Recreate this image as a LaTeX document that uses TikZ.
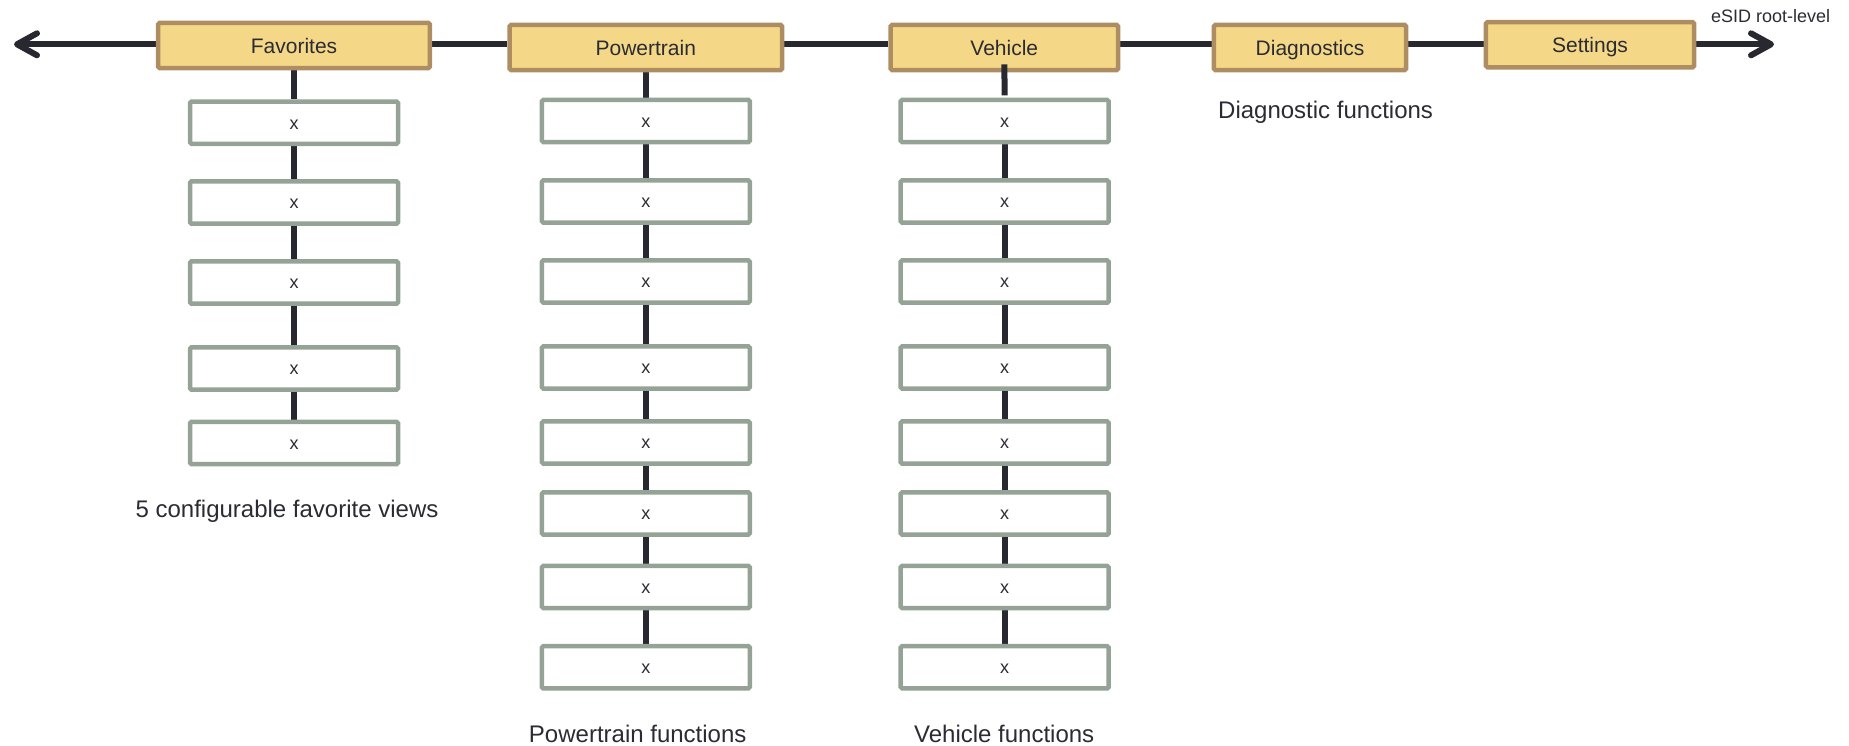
\documentclass[tikz,border=0pt]{standalone}
\usepackage{fontspec}
\setmainfont{Liberation Sans}
\usetikzlibrary{arrows.meta,backgrounds}
\definecolor{hdrfill}{RGB}{244,216,135}
\definecolor{hdrdraw}{RGB}{175,141,99}
\definecolor{itemdraw}{RGB}{148,163,150}
\definecolor{linec}{RGB}{40,40,48}
\definecolor{txt}{RGB}{43,43,51}
\begin{document}
\begin{tikzpicture}[x=1pt,y=-1pt,
  >={Straight Barb[length=20pt,width=22pt,round]},
  hdr/.style={draw=hdrdraw, fill=hdrfill, line width=4.5pt, rounded corners=1.5pt,
    minimum height=45.1pt, inner sep=0pt, text=txt, font=\fontsize{21}{25}\selectfont,
    text height=18.9pt, text depth=3.86pt},
  item/.style={draw=itemdraw, fill=white, line width=4.5pt, rounded corners=1.5pt,
    minimum width=208pt, minimum height=42.2pt, inner sep=0pt, text=txt,
    font=\fontsize{18}{22}\selectfont, text height=16.2pt, text depth=3.31pt},
  conn/.style={draw=linec, line width=6pt},
  lbl/.style={text=txt, font=\fontsize{24}{28}\selectfont, inner sep=0pt},
]
\useasboundingbox (0,0) rectangle (1849,745);

% header nodes
\node[hdr, minimum width=271.8pt] (fav) at (294,45.5) {Favorites};
\node[hdr, minimum width=272.5pt] (pow) at (645.8,47.5) {Powertrain};
\node[hdr, minimum width=227.5pt] (veh) at (1004.3,47.5) {Vehicle};
\node[hdr, minimum width=192.1pt] (dia) at (1310,47.5) {Diagnostics};
\node[hdr, minimum width=208.1pt] (set) at (1590,44.7) {Settings};

\coordinate (L) at (14,44.3);
\coordinate (R) at (1774,44.3);

% favorites column
\foreach \i/\y in {1/122.7,2/202.5,3/282.5,4/368.5,5/443}
  \node[item] (f\i) at (294,\y) {x};
% powertrain column
\foreach \i/\y in {1/121,2/201.5,3/281.5,4/367.5,5/442.5,6/513.5,7/587,8/667.3}
  \node[item] (p\i) at (645.8,\y) {x};
% vehicle column
\foreach \i/\y in {1/121,2/201.5,3/281.5,4/367.5,5/442.5,6/513.5,7/587,8/667.3}
  \node[item] (v\i) at (1004.7,\y) {x};

% labels
\node[lbl, anchor=base] (lf) at (287,517) {5 configurable favorite views};
\node[lbl, anchor=base] (lp) at (637.7,742.5) {Powertrain functions};
\node[lbl, anchor=base] (lv) at (1004.2,742) {Vehicle functions};
\node[lbl, anchor=base west] (ld) at (1218,118.3) {Diagnostic functions};
\node[text=txt, font=\fontsize{18}{22}\selectfont, inner sep=0pt, anchor=base west] (le) at (1711,22.7) {eSID root-level};

\begin{pgfonlayer}{background}
  % main line
  \draw[conn, <-] (L) -- (fav.west |- L);
  \draw[conn] (fav.east |- L) -- (pow.west |- L);
  \draw[conn] (pow.east |- L) -- (veh.west |- L);
  \draw[conn] (veh.east |- L) -- (dia.west |- L);
  \draw[conn] (dia.east |- L) -- (set.west |- L);
  \draw[conn, ->] (set.east |- L) -- (R);
  % vertical connectors
  \draw[conn] (fav.south) -- (f1.north);
  \foreach \a/\b in {1/2,2/3,3/4,4/5}
    \draw[conn] (f\a.south) -- (f\b.north);
  \draw[conn] (pow.south) -- (p1.north);
  \foreach \a/\b in {1/2,2/3,3/4,4/5,5/6,6/7,7/8}
    \draw[conn] (p\a.south) -- (p\b.north);
  \foreach \a/\b in {1/2,2/3,3/4,4/5,5/6,6/7,7/8}
    \draw[conn] (v\a.south) -- (v\b.north);
\end{pgfonlayer}
\draw[conn] ([yshift=8pt]veh.south) -- ([yshift=2.25pt]v1.north);
\end{tikzpicture}
\end{document}
